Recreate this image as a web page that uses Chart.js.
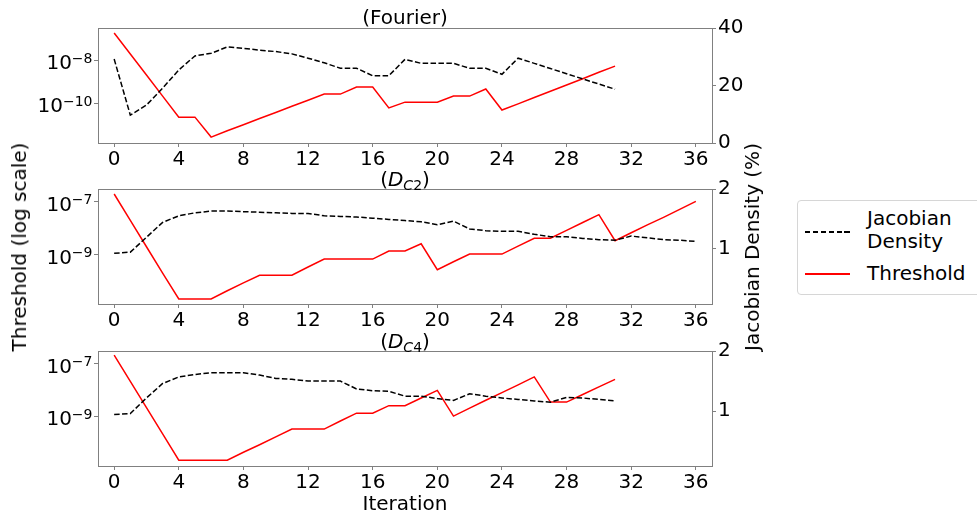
<!DOCTYPE html>
<html>
<head>
<meta charset="utf-8">
<script src="https://cdn.jsdelivr.net/npm/chart.js@4.4.0/dist/chart.umd.min.js"></script>
<style>
  body { margin: 0; background: #fff; }
  #wrap { position: relative; width: 977px; height: 518px; overflow: hidden; background: #fff;
          font-family: 'DejaVu Sans', sans-serif; color: #000; }
  canvas { position: absolute; left: 0; }
  .t { position: absolute; font-size: 20px; line-height: 1; white-space: nowrap; transform: translate(-50%, -50%); }
  .rot { transform: translate(-50%, -50%) rotate(-90deg); }
  sub { font-size: 14px; vertical-align: -4px; line-height: 0; }
  #legend { position: absolute; left: 797px; top: 200px; width: 190px; height: 93px;
            border: 1px solid #d6d6d6; border-radius: 4px; background: #fff; font-size: 20px; }
  .sw { position: absolute; left: 7px; width: 45px; height: 1.5px; }
  .lb { position: absolute; left: 69px; line-height: 23px; }
</style>
</head>
<body>
<div id="wrap">
  <canvas id="c1" width="977" height="175" style="top:0px"></canvas>
  <canvas id="c2" width="977" height="175" style="top:161px"></canvas>
  <canvas id="c3" width="977" height="175" style="top:323px"></canvas>

  <div class="t" style="left:405px; top:17px">(Fourier)</div>
  <div class="t" style="left:405px; top:179px">(<i>D</i><sub><i>C</i>2</sub>)</div>
  <div class="t" style="left:405px; top:341px">(<i>D</i><sub><i>C</i>4</sub>)</div>
  <div class="t rot" style="left:19px; top:247px">Threshold (log scale)</div>
  <div class="t rot" style="left:752px; top:247px">Jacobian Density (%)</div>
  <div class="t" style="left:405px; top:503px">Iteration</div>

  <div id="legend">
    <div class="sw" style="top:30px; background:repeating-linear-gradient(to right, #000 0 5.5px, transparent 5.5px 7.9px)"></div>
    <div class="lb" style="top:6px">Jacobian<br>Density</div>
    <div class="sw" style="top:72px; background:#ff0000"></div>
    <div class="lb" style="top:61px">Threshold</div>
  </div>
</div>

<script>
// iterations
const itersFourier = [0,1,2,3,4,5,6,7,8,9,10,11,12,13,14,15,16,17,18,19,20,21,22,23,24,25,26,27,28,29,30,31]
const itersDC2 = [0,1,2,3,4,5,6,7,8,9,10,11,12,13,14,15,16,17,18,19,20,21,22,23,24,25,26,27,28,29,30,31,32,33,34,35,36]
const itersDC4 = itersFourier

const xTicks = [0, 4, 8, 12, 16, 20, 24, 28, 32, 36]

// threshold (left, log scale)
const thrFourier = [1.8e-7, 1.9e-8, 2.0e-9, 2.1e-10, 2.2e-11, 2.2e-11, 2.6e-12, 5.1e-12, 9.8e-12, 1.9e-11,
  3.6e-11, 7.1e-11, 1.35e-10, 2.6e-10, 2.6e-10, 5.5e-10, 5.5e-10, 5.9e-11, 1.1e-10, 1.1e-10,
  1.1e-10, 2.1e-10, 2.1e-10, 4.5e-10, 4.7e-11, 9.1e-11, 1.8e-10, 3.5e-10, 6.9e-10, 1.35e-9,
  2.7e-9, 5.2e-9]
const thrDC2 = [2.0e-7, 2.0e-8, 2.0e-9, 2.0e-10, 2.1e-11, 2.1e-11, 2.1e-11, 4.3e-11, 8.5e-11, 1.66e-10,
  1.66e-10, 1.66e-10, 3.4e-10, 6.8e-10, 6.8e-10, 6.8e-10, 6.8e-10, 1.38e-9, 1.38e-9, 2.6e-9,
  2.7e-10, 5.4e-10, 1.05e-9, 1.05e-9, 1.05e-9, 2.1e-9, 4.2e-9, 4.2e-9, 8.3e-9, 1.66e-8,
  3.3e-8, 3.4e-9, 6.8e-9, 1.35e-8, 2.6e-8, 5.2e-8, 1.05e-7]
const thrDC4 = [2.1e-7, 2.1e-8, 2.1e-9, 2.1e-10, 2.1e-11, 2.1e-11, 2.1e-11, 2.1e-11, 4.2e-11, 8.1e-11,
  1.62e-10, 3.2e-10, 3.2e-10, 3.2e-10, 6.5e-10, 1.29e-9, 1.29e-9, 2.5e-9, 2.5e-9, 4.9e-9,
  9.5e-9, 1.0e-9, 2.0e-9, 4.0e-9, 7.8e-9, 1.55e-8, 3.1e-8, 3.4e-9, 3.4e-9, 6.6e-9,
  1.29e-8, 2.5e-8]

// jacobian density (right, %)
const densFourier = [29.2, 9.7, 13.2, 19.1, 25.4, 30.3, 31.2, 33.4, 32.9, 32.3, 31.8, 31.0, 29.5, 27.9, 26.0, 26.0,
  23.4, 23.4, 29.1, 27.7, 27.7, 27.7, 26.0, 26.0, 23.9, 29.5, 27.7, 25.9, 24.1, 22.3, 20.5, 18.7]
const densDC2 = [0.92, 0.94, 1.19, 1.44, 1.55, 1.60, 1.63, 1.63, 1.62, 1.61, 1.60, 1.59, 1.59, 1.55, 1.54, 1.53,
  1.51, 1.49, 1.47, 1.45, 1.40, 1.46, 1.33, 1.30, 1.29, 1.29, 1.24, 1.20, 1.20, 1.17, 1.15, 1.14,
  1.21, 1.18, 1.15, 1.14, 1.12]
const densDC4 = [0.945, 0.96, 1.22, 1.46, 1.57, 1.61, 1.64, 1.64, 1.64, 1.60, 1.545, 1.53, 1.50, 1.50, 1.50, 1.37,
  1.34, 1.33, 1.25, 1.25, 1.21, 1.18, 1.29, 1.25, 1.22, 1.195, 1.17, 1.15, 1.23, 1.22, 1.195, 1.17]

const thrTicksFourier = [1e-10, 1e-8]
const thrTicksDC = [1e-9, 1e-7]
const densTicksFourier = [0, 20, 40]
const densTicksDC = [1, 2]

const FONT = "'DejaVu Sans', sans-serif"
Chart.defaults.font.family = FONT
Chart.defaults.font.size = 20
Chart.defaults.color = '#000'

const spine = '#808080'

// box around each panel
const frame = {
    id: 'frame',
    afterDraw(chart) {
        const { ctx, chartArea: a } = chart
        ctx.save()
        ctx.strokeStyle = spine
        ctx.lineWidth = 1
        ctx.strokeRect(Math.round(a.left) + 0.5, Math.round(a.top) + 0.5, Math.round(a.right - a.left), Math.round(a.bottom - a.top))
        ctx.restore()
    }
}

// 10^n labels with a real superscript, placed at the log scale's tick pixels
const powLabels = {
    id: 'powLabels',
    afterDraw(chart) {
        const s = chart.scales.y
        const { ctx } = chart
        ctx.save()
        ctx.fillStyle = '#000'
        ctx.textBaseline = 'alphabetic'
        ctx.textAlign = 'left'
        s.ticks.forEach(t => {
            const y = s.getPixelForValue(t.value)
            const exp = String(Math.round(Math.log10(t.value))).replace('-', '\u2212')
            ctx.font = '20px ' + FONT
            const wBase = ctx.measureText('10').width
            ctx.font = '14px ' + FONT
            const wExp = ctx.measureText(exp).width
            const x0 = s.right - 5.5 - wBase - wExp
            ctx.font = '20px ' + FONT
            ctx.fillText('10', x0, y + 9)
            ctx.font = '14px ' + FONT
            ctx.fillText(exp, x0 + wBase, y + 2.5)
        })
        ctx.restore()
    }
}

const axisStyle = {
    grid: { drawOnChartArea: false, tickLength: 4, color: spine, lineWidth: 1 },
    border: { color: spine, width: 1 },
}

function panel(id, iters, thr, dens, logMin, logMax, thrTicks, densMin, densMax, densTicks) {
    new Chart(document.getElementById(id).getContext('2d'), {
        type: 'line',
        data: {
            datasets: [
                { label: 'Jacobian Density', data: iters.map((x, i) => ({ x, y: dens[i] })), yAxisID: 'y2',
                  borderColor: '#000', borderWidth: 1.5, borderDash: [5.5, 2.4] },
                { label: 'Threshold', data: iters.map((x, i) => ({ x, y: thr[i] })), yAxisID: 'y',
                  borderColor: '#ff0000', borderWidth: 1.5 },
            ]
        },
        options: {
            responsive: false,
            devicePixelRatio: 1,
            animation: false,
            layout: { padding: { top: 28, right: 200, left: 0, bottom: 0 } },
            plugins: { legend: { display: false }, tooltip: { enabled: false } },
            elements: { point: { radius: 0 }, line: { tension: 0 } },
            scales: {
                x: {
                    type: 'linear', min: -1, max: 37, ...axisStyle,
                    afterBuildTicks: s => { s.ticks = xTicks.map(v => ({ value: v })) },
                    afterFit: s => { s.height = 32 },
                    ticks: { padding: 1, maxRotation: 0, autoSkip: false, callback: v => String(v) },
                },
                y: {
                    type: 'logarithmic', position: 'left', min: logMin, max: logMax, ...axisStyle,
                    afterBuildTicks: s => { s.ticks = thrTicks.map(v => ({ value: v })) },
                    afterFit: s => { s.width = 98 },
                    ticks: { display: false },
                },
                y2: {
                    type: 'linear', position: 'right', min: densMin, max: densMax, ...axisStyle,
                    afterBuildTicks: s => { s.ticks = densTicks.map(v => ({ value: v })) },
                    afterFit: s => { s.width = 65 },
                    ticks: { padding: 2, callback: v => String(v) },
                },
            }
        },
        plugins: [frame, powLabels]
    })
}

panel('c1', itersFourier, thrFourier, densFourier, 1.38e-12, 3.09e-7, thrTicksFourier, 0, 40, densTicksFourier)
panel('c2', itersDC2, thrDC2, densDC2, 1.35e-11, 3.09e-7, thrTicksDC, 0.07, 2.0, densTicksDC)
panel('c3', itersDC4, thrDC4, densDC4, 1.26e-11, 3.0e-7, thrTicksDC, 0.09, 2.0, densTicksDC)
</script>
</body>
</html>
